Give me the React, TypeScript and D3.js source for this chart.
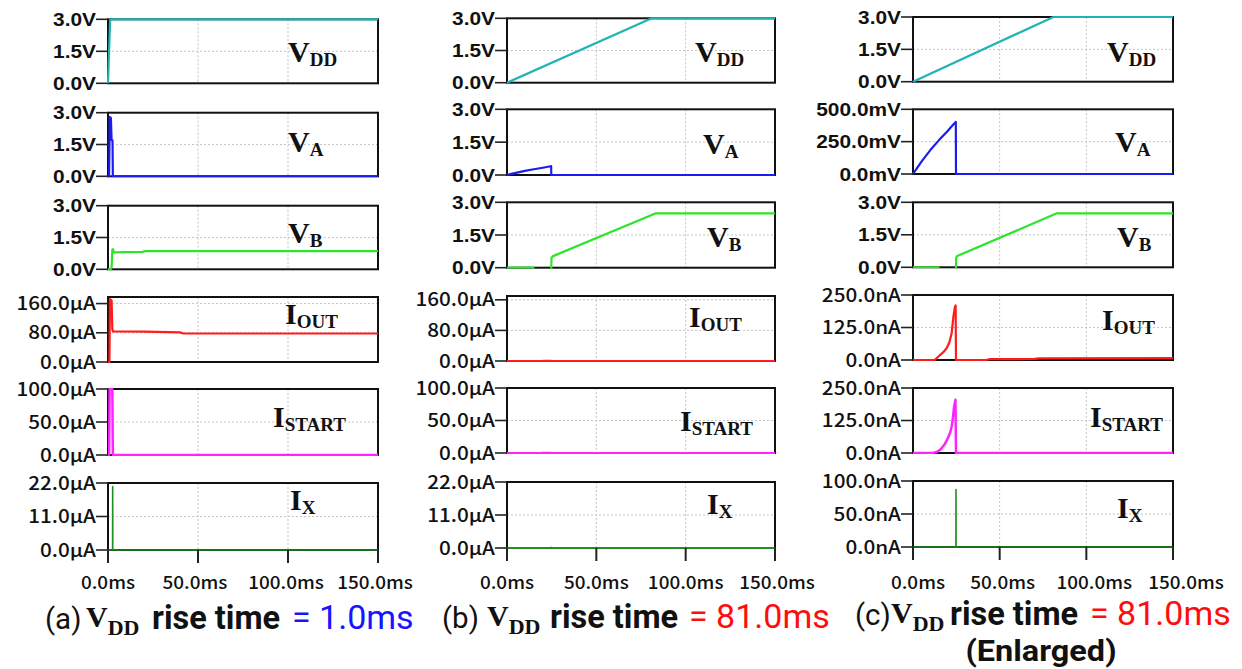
import React from "react";
import * as d3 from "d3";

type Pt = [number, number];

// ---- time axis (ms) ----
const timeTicks = [0, 50, 100, 150];
const timeTickLabels = ["0.0ms", "50.0ms", "100.0ms", "150.0ms"];

// ---- case (a): 1.0 ms supply ramp, volts and microamps ----
const fastVdd: Pt[] = [[0, 0], [1.2, 3], [150, 3]];
const fastVa: Pt[] = [[0, 0], [0.6, 0], [1.0, 2.8], [1.6, 2.75], [2.0, 1.7], [2.5, 1.7], [2.7, 0], [150, 0]];
const fastVb: Pt[] = [[0, 0], [1.5, 0], [2.0, 0.1], [2.4, 0.93], [2.8, 0.95], [3.2, 0.8], [19, 0.82], [21, 0.86], [150, 0.86]];
const fastIout: Pt[] = [[0, 0], [0.8, 0], [1.1, 172], [2.0, 168], [2.4, 90], [2.8, 84], [20, 83], [40, 81], [42, 78], [150, 78]];
const fastIstart: Pt[] = [[0, 0], [0.6, 0], [0.9, 100], [2.4, 100], [2.7, 0], [150, 0]];
const fastIx: Pt[] = [[0, 0], [2.55, 0], [2.6, 20.8], [2.65, 0], [150, 0]];

// ---- cases (b) and (c): 81.0 ms supply ramp; V_A in mV, currents in nA ----
const slowVdd: Pt[] = [[0, 0], [81, 3], [150, 3]];
const slowVaMilli: Pt[] = [[0, 0], [2.5, 50], [5, 98], [10, 185], [15, 262], [20, 332], [23, 378], [24.4, 399], [24.7, 402], [24.8, 0], [150, 0]];
const slowVb: Pt[] = [[0, 0], [14.7, 0], [14.8, -0.12], [24.7, -0.12], [24.8, 0], [24.9, 0.45], [25.5, 0.52], [83, 2.49], [150, 2.49]];
const slowIoutNano: Pt[] = [[0, 0], [12.5, 0], [15.6, 19], [17.5, 30], [19.4, 45], [21, 68], [22.3, 103], [23.3, 167], [24.2, 205], [24.6, 210], [24.8, 0], [42, 0], [44, 3], [70, 4], [73, 6], [150, 7]];
const slowIstartNano: Pt[] = [[0, 0], [11.5, 0], [14, 5], [16, 14], [18.5, 36], [20, 55], [21.5, 80], [22.3, 101], [23, 135], [23.7, 178], [24.5, 205], [24.8, 0], [150, 0]];
const slowIxNano: Pt[] = [[0, 0], [24.75, 0], [24.8, 87], [24.85, 0], [150, 0]];

// ---- y tick values and labels ----
const voltTicks = [0, 1.5, 3];
const voltLabels = ["0.0V", "1.5V", "3.0V"];
const ioutMicroTicks = [0, 80, 160];
const ioutMicroLabels = ["0.0μA", "80.0μA", "160.0μA"];
const istartMicroTicks = [0, 50, 100];
const istartMicroLabels = ["0.0μA", "50.0μA", "100.0μA"];
const ixMicroTicks = [0, 11, 22];
const ixMicroLabels = ["0.0μA", "11.0μA", "22.0μA"];
const vaMilliTicks = [0, 250, 500];
const vaMilliLabels = ["0.0mV", "250.0mV", "500.0mV"];
const nanoTicks = [0, 125, 250];
const nanoLabels = ["0.0nA", "125.0nA", "250.0nA"];
const ixNanoTicks = [0, 50, 100];
const ixNanoLabels = ["0.0nA", "50.0nA", "100.0nA"];

const C_VDD = "#1fb3b3";
const C_VA = "#1c1cf0";
const C_VB = "#2ae62a";
const C_IOUT = "#ff1c1c";
const C_ISTART = "#ff24ff";
const C_IX = "#1f8f1f";

const scaleDown = (pts: Pt[]): Pt[] => pts.map(([t, v]) => [t, v / 1000]);

const SANS = "'Noto Sans CJK SC', 'Noto Sans', sans-serif";
const CAPTION = "Roboto, 'Noto Sans', sans-serif";
const ARIAL = "'Liberation Sans', Arial, sans-serif";
const SERIF = "'Liberation Serif', 'DejaVu Serif', serif";

interface RowSpec {
  name: string;
  sub: string;
  color: string;
  data: Pt[];
  yMax: number;
  ticks: number[];
  labels: string[];
  volt: boolean;
  width?: number;
}

interface ColSpec {
  x0: number;
  x1: number;
  tops: number[];
  bottoms: number[];
  labelPos: [number, number][];
  timeLabelShift: number[];
  rows: RowSpec[];
}

const columns: ColSpec[] = [
  {
    x0: 108,
    x1: 378,
    tops: [19.3, 112.7, 205.7, 297, 389, 483],
    bottoms: [83.3, 176.3, 269.3, 362, 455, 550],
    labelPos: [[288, 62], [288, 152], [288, 243], [285, 324], [273, 427], [290, 510]],
    timeLabelShift: [0, -3, -2, -3],
    rows: [
      { name: "V", sub: "DD", color: C_VDD, data: fastVdd, yMax: 3, ticks: voltTicks, labels: voltLabels, volt: true },
      { name: "V", sub: "A", color: C_VA, data: fastVa, yMax: 3, ticks: voltTicks, labels: voltLabels, volt: true },
      { name: "V", sub: "B", color: C_VB, data: fastVb, yMax: 3, ticks: voltTicks, labels: voltLabels, volt: true },
      { name: "I", sub: "OUT", color: C_IOUT, data: fastIout, yMax: 178, ticks: ioutMicroTicks, labels: ioutMicroLabels, volt: false },
      { name: "I", sub: "START", color: C_ISTART, data: fastIstart, yMax: 100, ticks: istartMicroTicks, labels: istartMicroLabels, volt: false, width: 2.5 },
      { name: "I", sub: "X", color: C_IX, data: fastIx, yMax: 22, ticks: ixMicroTicks, labels: ixMicroLabels, volt: false, width: 1.6 },
    ],
  },
  {
    x0: 507,
    x1: 775,
    tops: [18.3, 109.3, 202.3, 296, 388, 482],
    bottoms: [82.7, 175, 267.7, 361, 453, 548],
    labelPos: [[695, 62], [703, 154], [707, 247], [689, 327], [680, 431], [707, 514]],
    timeLabelShift: [0, 0, 0, 2],
    rows: [
      { name: "V", sub: "DD", color: C_VDD, data: slowVdd, yMax: 3, ticks: voltTicks, labels: voltLabels, volt: true },
      { name: "V", sub: "A", color: C_VA, data: scaleDown(slowVaMilli), yMax: 3, ticks: voltTicks, labels: voltLabels, volt: true },
      { name: "V", sub: "B", color: C_VB, data: slowVb, yMax: 3, ticks: voltTicks, labels: voltLabels, volt: true },
      { name: "I", sub: "OUT", color: C_IOUT, data: scaleDown(slowIoutNano), yMax: 170, ticks: ioutMicroTicks, labels: ioutMicroLabels, volt: false },
      { name: "I", sub: "START", color: C_ISTART, data: scaleDown(slowIstartNano), yMax: 100, ticks: istartMicroTicks, labels: istartMicroLabels, volt: false },
      { name: "I", sub: "X", color: C_IX, data: scaleDown(slowIxNano), yMax: 22, ticks: ixMicroTicks, labels: ixMicroLabels, volt: false },
    ],
  },
  {
    x0: 913,
    x1: 1173,
    tops: [17, 109.3, 202.3, 295, 388, 481],
    bottoms: [81.7, 174, 267.3, 360, 453, 547],
    labelPos: [[1107, 62], [1115, 152], [1117, 247], [1102, 330], [1090, 427], [1117, 518]],
    timeLabelShift: [5, 3, 8, 13],
    rows: [
      { name: "V", sub: "DD", color: C_VDD, data: slowVdd, yMax: 3, ticks: voltTicks, labels: voltLabels, volt: true },
      { name: "V", sub: "A", color: C_VA, data: slowVaMilli, yMax: 500, ticks: vaMilliTicks, labels: vaMilliLabels, volt: true },
      { name: "V", sub: "B", color: C_VB, data: slowVb, yMax: 3, ticks: voltTicks, labels: voltLabels, volt: true },
      { name: "I", sub: "OUT", color: C_IOUT, data: slowIoutNano, yMax: 250, ticks: nanoTicks, labels: nanoLabels, volt: false },
      { name: "I", sub: "START", color: C_ISTART, data: slowIstartNano, yMax: 250, ticks: nanoTicks, labels: nanoLabels, volt: false, width: 2.5 },
      { name: "I", sub: "X", color: C_IX, data: slowIxNano, yMax: 100, ticks: ixNanoTicks, labels: ixNanoLabels, volt: false, width: 1.6 },
    ],
  },
];

const captions = [
  { letter: "(a)", xs: [45, 86, 152, 292], value: "= 1.0ms", valueColor: "#1515ff", y: 629 },
  { letter: "(b)", xs: [442, 487, 550, 689], value: "= 81.0ms", valueColor: "#ff0d0d", y: 628 },
  { letter: "(c)", xs: [855, 891, 950, 1090], value: "= 81.0ms", valueColor: "#ff0d0d", y: 625 },
];

function Panel({ col, ci, ri }: { col: ColSpec; ci: number; ri: number }) {
  const row = col.rows[ri];
  const top = col.tops[ri];
  const bottom = col.bottoms[ri];
  const x = d3.scaleLinear().domain([0, 150]).range([col.x0, col.x1]);
  const y = d3.scaleLinear().domain([0, row.yMax]).range([bottom, top]);
  const line = d3.line<Pt>().x((d) => x(d[0])).y((d) => y(d[1]));
  const clipId = `clip-${ci}-${ri}`;
  const [lx, ly] = col.labelPos[ri];
  const isLast = ri === col.rows.length - 1;
  return (
    <g>
      <defs>
        <clipPath id={clipId}>
          <rect x={col.x0 - 1.5} y={top - 1.2} width={col.x1 - col.x0 + 3} height={bottom - top + 2.2} />
        </clipPath>
      </defs>
      {/* dotted grid */}
      {timeTicks.slice(1, -1).map((t) => (
        <line key={"gx" + t} x1={x(t)} x2={x(t)} y1={top} y2={bottom} stroke="#c4c4c4" strokeWidth={1} strokeDasharray="2,2" />
      ))}
      {row.ticks.slice(1).map((v) => (
        <line key={"gy" + v} x1={col.x0} x2={col.x1} y1={y(v)} y2={y(v)} stroke="#c4c4c4" strokeWidth={1} strokeDasharray="2,2" />
      ))}
      {/* frame */}
      <rect x={col.x0} y={top} width={col.x1 - col.x0} height={bottom - top} fill="none" stroke="#111" strokeWidth={2} />
      {/* left ticks + labels */}
      {row.ticks.map((v, i) => (
        <g key={"yt" + v}>
          <line x1={col.x0 - 12} x2={col.x0} y1={y(v)} y2={y(v)} stroke="#222" strokeWidth={1.6} />
          <text
            transform={`translate(${col.x0 - 12},${y(v) + 6.6}) scale(${row.volt ? 1.13 : 1.12},1)`}
            textAnchor="end"
            fontFamily={row.volt ? ARIAL : SANS}
            fontWeight={row.volt ? 700 : 500}
            fontSize={18.5}
            fill="#111"
          >
            {row.labels[i]}
          </text>
        </g>
      ))}
      {/* trace */}
      <path d={line(row.data) ?? ""} fill="none" stroke={row.color} strokeWidth={row.width ?? 2.2} clipPath={`url(#${clipId})`} strokeLinejoin="round" />
      {/* signal name */}
      <text x={lx} y={ly} fontFamily={SERIF} fontWeight={700} fill="#111">
        <tspan fontSize={30}>{row.name}</tspan>
        <tspan fontSize={19} dy={4}>{row.sub}</tspan>
      </text>
      {/* time axis on the bottom panel only */}
      {isLast &&
        timeTicks.map((t, i) => (
          <g key={"xt" + t}>
            <line x1={x(t)} x2={x(t)} y1={bottom} y2={bottom + 13} stroke="#222" strokeWidth={2} />
            <text
              transform={`translate(${x(t) + col.timeLabelShift[i]},589) scale(1.08,1)`}
              textAnchor="middle"
              fontFamily={SANS}
              fontWeight={500}
              fontSize={17.5}
              fill="#111"
            >
              {timeTickLabels[i]}
            </text>
          </g>
        ))}
    </g>
  );
}

export default function App() {
  return (
    <div style={{ position: "absolute", left: 0, top: 0, background: "#fff" }}>
      <svg width={1242} height={669} viewBox="0 0 1242 669" style={{ display: "block" }}>
        <rect width={1242} height={669} fill="#fff" />
        {columns.map((col, ci) => (
          <g key={ci}>
            {col.rows.map((_, ri) => (
              <Panel key={ri} col={col} ci={ci} ri={ri} />
            ))}
          </g>
        ))}
        {captions.map((c) => (
          <g key={c.letter}>
            <text x={c.xs[0]} y={c.y} fontFamily={CAPTION} fontSize={29.5} fill="#111">
              {c.letter}
            </text>
            <text x={c.xs[1]} y={c.y - 2} fontFamily={SERIF} fontWeight={700} fill="#111">
              <tspan fontSize={30}>V</tspan>
              <tspan fontSize={22} dy={8}>DD</tspan>
            </text>
            <text x={c.xs[2]} y={c.y} fontFamily={CAPTION} fontWeight={700} fontSize={32.5} fill="#111">
              rise time
            </text>
            <text x={c.xs[3]} y={c.y} fontFamily={CAPTION} fontSize={34} fill={c.valueColor}>
              {c.value}
            </text>
          </g>
        ))}
        <text
          transform="translate(1041,661) scale(1.12,1)"
          textAnchor="middle"
          fontFamily={CAPTION}
          fontWeight={700}
          fontSize={29}
          fill="#111"
        >
          (Enlarged)
        </text>
      </svg>
    </div>
  );
}
